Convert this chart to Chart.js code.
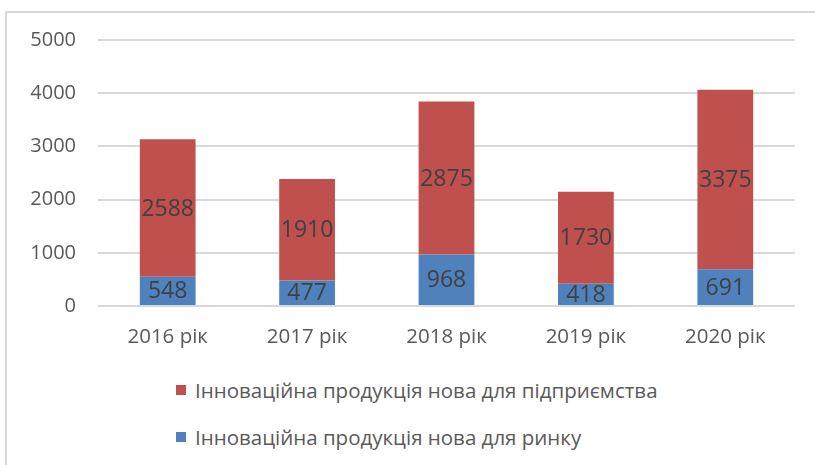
<!DOCTYPE html>
<html>
<head>
<meta charset="utf-8">
<script src="https://cdn.jsdelivr.net/npm/chart.js@4"></script>
<style>
  body { margin: 0; background: #fff; }
  #wrap { position: relative; width: 815px; height: 465px; overflow: hidden; background: #fff; }
  #frame { position: absolute; left: 5px; top: 11px; width: 830px; height: 470px;
           border-top: 2px solid #d9d9d9; border-left: 2px solid #d9d9d9; }
  #box { position: absolute; left: 0; top: 0; width: 815px; height: 360px; }
  #legenda { position: absolute; left: 176px; top: 376px; font-family: "Open Sans", sans-serif;
             font-size: 20.5px; color: #595959; }
  .item { display: flex; align-items: center; height: 28px; margin-bottom: 19px; }
  .cuadro { width: 10px; height: 10px; margin-right: 9px; }
</style>
</head>
<body>
<div id="wrap">
  <div id="frame"></div>
  <div id="box"><canvas id="myChart"></canvas></div>
  <div id="legenda"></div>
</div>
<script>
let anios = ["2016 рік", "2017 рік", "2018 рік", "2019 рік", "2020 рік"];
let paraRinku = [548, 477, 968, 418, 691];
let paraPidpryiemstva = [2588, 1910, 2875, 1730, 3375];
let ticksY = [0, 1000, 2000, 3000, 4000, 5000];

let nombreRinku = "Інноваційна продукція нова для ринку";
let nombrePidpr = "Інноваційна продукція нова для підприємства";

let colorAzul = "#4f81bd";
let colorRojo = "#c0504d";
let fuente = "'Open Sans', sans-serif";

let myChart = document.querySelector("#myChart");
let legenda = document.querySelector("#legenda");

// etiquetas dentro de las barras
const etiquetas = {
  id: "etiquetas",
  afterDatasetsDraw(chart) {
    const ctx = chart.ctx;
    ctx.save();
    ctx.font = "23px " + fuente;
    ctx.fillStyle = "#404040";
    ctx.textAlign = "center";
    ctx.textBaseline = "middle";
    chart.data.datasets.forEach((ds, i) => {
      const meta = chart.getDatasetMeta(i);
      meta.data.forEach((bar, j) => {
        const centro = bar.getCenterPoint();
        ctx.fillText(ds.data[j], centro.x, centro.y + 1);
      });
    });
    ctx.restore();
  },
};

const datasets = [
  { label: nombreRinku, data: paraRinku, backgroundColor: colorAzul },
  { label: nombrePidpr, data: paraPidpryiemstva, backgroundColor: colorRojo },
];

const conf = {
  type: "bar",
  data: { labels: anios, datasets },
  options: {
    responsive: true,
    maintainAspectRatio: false,
    animation: false,
    layout: { padding: { top: 40, right: 20, left: 0, bottom: 0 } },
    datasets: { bar: { categoryPercentage: 1, barPercentage: 0.4 } },
    plugins: { legend: { display: false }, tooltip: { enabled: false } },
    scales: {
      x: {
        stacked: true,
        grid: { display: false },
        border: { display: false },
        ticks: { color: "#595959", font: { family: fuente, size: 20.5 }, padding: 11 },
        afterFit(scale) { scale.height = 54; },
      },
      y: {
        stacked: true,
        min: 0,
        max: 5000,
        afterBuildTicks(scale) { scale.ticks = ticksY.map((v) => ({ value: v })); },
        grid: { color: "#d9d9d9", lineWidth: 2, drawTicks: false },
        border: { display: false },
        ticks: {
          color: "#595959",
          font: { family: fuente, size: 20 },
          padding: 22,
          callback: (v) => String(v),
        },
        afterFit(scale) { scale.width = 98; },
      },
    },
  },
  plugins: [etiquetas],
};

new Chart(myChart, conf);

// leyenda
let html = "";
for (const ds of [datasets[1], datasets[0]]) {
  html += `<div class="item"><div class="cuadro" style="background:${ds.backgroundColor}"></div>${ds.label}</div>`;
}
legenda.innerHTML = html;
</script>
</body>
</html>
